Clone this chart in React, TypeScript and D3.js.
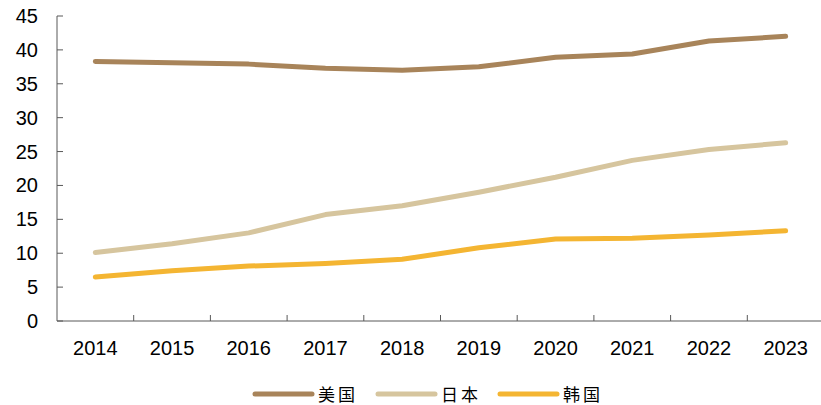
import React from "react";
import * as d3 from "d3";

const years = ["2014", "2015", "2016", "2017", "2018", "2019", "2020", "2021", "2022", "2023"];
const usa = [38.3, 38.1, 37.9, 37.3, 37.0, 37.5, 38.9, 39.4, 41.3, 42.0];
const japan = [10.1, 11.4, 13.0, 15.7, 17.0, 19.0, 21.2, 23.7, 25.3, 26.3];
const korea = [6.5, 7.4, 8.1, 8.5, 9.1, 10.8, 12.1, 12.2, 12.7, 13.3];
const yTicks = [0, 5, 10, 15, 20, 25, 30, 35, 40, 45];
const seriesNames = ["美国", "日本", "韩国"];
const seriesColors = ["#A8845A", "#D6C59E", "#F4B532"];

export default function App() {
  const W = 821, H = 405;
  const x0 = 57, x1 = 824, yTop = 16, yBot = 321;
  const x = d3.scaleBand<string>().domain(years).range([x0, x1]);
  const y = d3.scaleLinear().domain([0, 45]).range([yBot, yTop]);
  const line = d3
    .line<number>()
    .x((_, i) => (x(years[i]) as number) + x.bandwidth() / 2)
    .y((d) => y(d));
  const allSeries = [usa, japan, korea];
  const axisColor = "#595959";
  const legendX = [255, 378, 500];
  return (
    <svg width={W} height={H} style={{ position: "absolute", left: 0, top: 0 }}>
      {/* axes */}
      <line x1={x0} x2={x0} y1={yTop} y2={yBot} stroke={axisColor} strokeWidth={1} />
      <line x1={x0} x2={x1} y1={yBot} y2={yBot} stroke={axisColor} strokeWidth={1} />
      {yTicks.map((t) => (
        <g key={t}>
          <line x1={x0} x2={x0 + 6} y1={y(t)} y2={y(t)} stroke={axisColor} />
          <text
            x={38}
            y={y(t)}
            dy="0.35em"
            textAnchor="end"
            fontFamily="'Liberation Sans', Arial, sans-serif"
            fontSize={20}
            fill="#000"
          >
            {t}
          </text>
        </g>
      ))}
      {years.map((yr, i) => (
        <g key={yr}>
          {i > 0 && (
            <line x1={x(yr)} x2={x(yr)} y1={yBot} y2={yBot - 6} stroke={axisColor} />
          )}
          <text
            x={(x(yr) as number) + x.bandwidth() / 2}
            y={355}
            textAnchor="middle"
            fontFamily="'Liberation Sans', Arial, sans-serif"
            fontSize={20}
            fill="#000"
          >
            {yr}
          </text>
        </g>
      ))}
      {allSeries.map((s, i) => (
        <path
          key={i}
          d={line(s) || ""}
          fill="none"
          stroke={seriesColors[i]}
          strokeWidth={5}
          strokeLinecap="round"
          strokeLinejoin="round"
        />
      ))}
      {seriesNames.map((n, i) => (
        <g key={n}>
          <line
            x1={legendX[i]}
            x2={legendX[i] + 57}
            y1={394}
            y2={394}
            stroke={seriesColors[i]}
            strokeWidth={5}
            strokeLinecap="round"
          />
          <text
            x={legendX[i] + 63}
            y={401}
            fontFamily="'Noto Sans CJK SC', sans-serif"
            fontSize={17}
            letterSpacing={3}
            fill="#000"
          >
            {n}
          </text>
        </g>
      ))}
    </svg>
  );
}
